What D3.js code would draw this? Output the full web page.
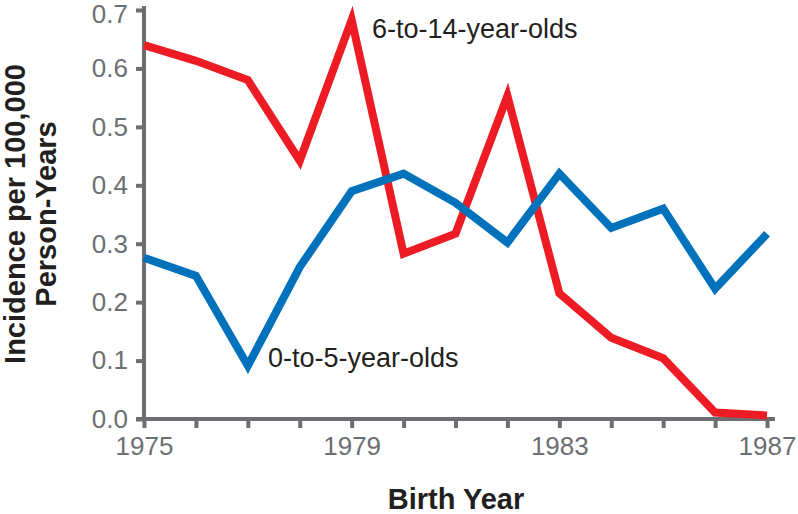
<!DOCTYPE html>
<meta charset="utf-8">
<style>
body { margin: 0; background: #fff; font-family: 'Liberation Sans', Arial, sans-serif; }
.axis path, .axis line { stroke: #6d6e71; stroke-width: 4px; }
.axis text { fill: #6d6e71; font-size: 26px; font-family: 'Liberation Sans', Arial, sans-serif; }
.line { fill: none; stroke-width: 8px; stroke-linejoin: miter; }
.title { font-weight: bold; font-size: 29px; fill: #231f20; }
.label { font-size: 27px; fill: #231f20; }
</style>
<body>
<script src="https://cdnjs.cloudflare.com/ajax/libs/d3/7.8.5/d3.min.js"></script>
<script>
var years = [1975, 1976, 1977, 1978, 1979, 1980, 1981, 1982, 1983, 1984, 1985, 1986, 1987];
var olderKids = [0.64, 0.613, 0.58, 0.442, 0.683, 0.283, 0.317, 0.553, 0.215, 0.139, 0.104, 0.011, 0.006];
var youngKids = [0.276, 0.245, 0.091, 0.26, 0.39, 0.42, 0.37, 0.302, 0.42, 0.327, 0.36, 0.223, 0.317];
var xLabelYears = [1975, 1979, 1983, 1987];
var yTicks = [0, 0.1, 0.2, 0.3, 0.4, 0.5, 0.6, 0.7];

var width = 798, height = 514;

var svg = d3.select("body").append("svg")
    .attr("width", width)
    .attr("height", height);

var x = d3.scaleLinear().domain([1975, 1987]).range([144, 767]),
    y = d3.scaleLinear().domain([0, 0.7]).range([419, 10]);

var line = d3.line()
    .x(function(d) { return x(d.year); })
    .y(function(d) { return y(d.value); });

// y axis
var yAxis = svg.append("g")
    .attr("class", "axis axis--y")
    .attr("transform", "translate(" + x.range()[0] + ",0)")
    .call(d3.axisLeft(y).tickValues(yTicks).tickSize(8).tickSizeOuter(0).tickPadding(8)
      .tickFormat(d3.format(".1f")));
yAxis.select(".domain").remove();
yAxis.append("line")
    .attr("x1", 0).attr("x2", 0)
    .attr("y1", y(0) + 2).attr("y2", y(0.7) - 4);
// top label sits a touch low so it stays inside the frame
yAxis.selectAll(".tick text").filter(function(d) { return d === 0.7; }).attr("y", 4);

// x axis
var xAxis = svg.append("g")
    .attr("class", "axis axis--x")
    .attr("transform", "translate(0," + y(0) + ")")
    .call(d3.axisBottom(x).tickValues(years).tickSize(9).tickSizeOuter(0).tickPadding(9)
      .tickFormat(function(d) { return xLabelYears.indexOf(d) >= 0 ? d : ""; }));
xAxis.select(".domain").remove();
xAxis.append("line")
    .attr("x1", x.range()[0] - 8).attr("x2", x(1987) + 8)
    .attr("y1", 0).attr("y2", 0);

var series = [
  {id: "6-to-14-year-olds", color: "#ed1c24", values: olderKids},
  {id: "0-to-5-year-olds", color: "#0072bc", values: youngKids}
];

// red first, blue drawn on top
svg.selectAll(".line")
  .data(series)
  .enter().append("path")
    .attr("class", "line")
    .style("stroke", function(d) { return d.color; })
    .attr("d", function(d) {
      return line(d.values.map(function(v, i) { return {year: years[i], value: v}; }));
    });

// series labels
svg.append("text")
    .attr("class", "label")
    .attr("x", 372)
    .attr("y", 38)
    .text("6-to-14-year-olds");

svg.append("text")
    .attr("class", "label")
    .attr("x", 268)
    .attr("y", 367)
    .text("0-to-5-year-olds");

// axis titles
svg.append("text")
    .attr("class", "title")
    .attr("x", 456)
    .attr("y", 509)
    .style("text-anchor", "middle")
    .text("Birth Year");

var yTitle = svg.append("text")
    .attr("class", "title")
    .attr("transform", "translate(25,214) rotate(-90)")
    .style("text-anchor", "middle");
yTitle.append("tspan").attr("x", 0).attr("y", 0).text("Incidence per 100,000");
yTitle.append("tspan").attr("x", 0).attr("y", 31).text("Person-Years");
</script>
